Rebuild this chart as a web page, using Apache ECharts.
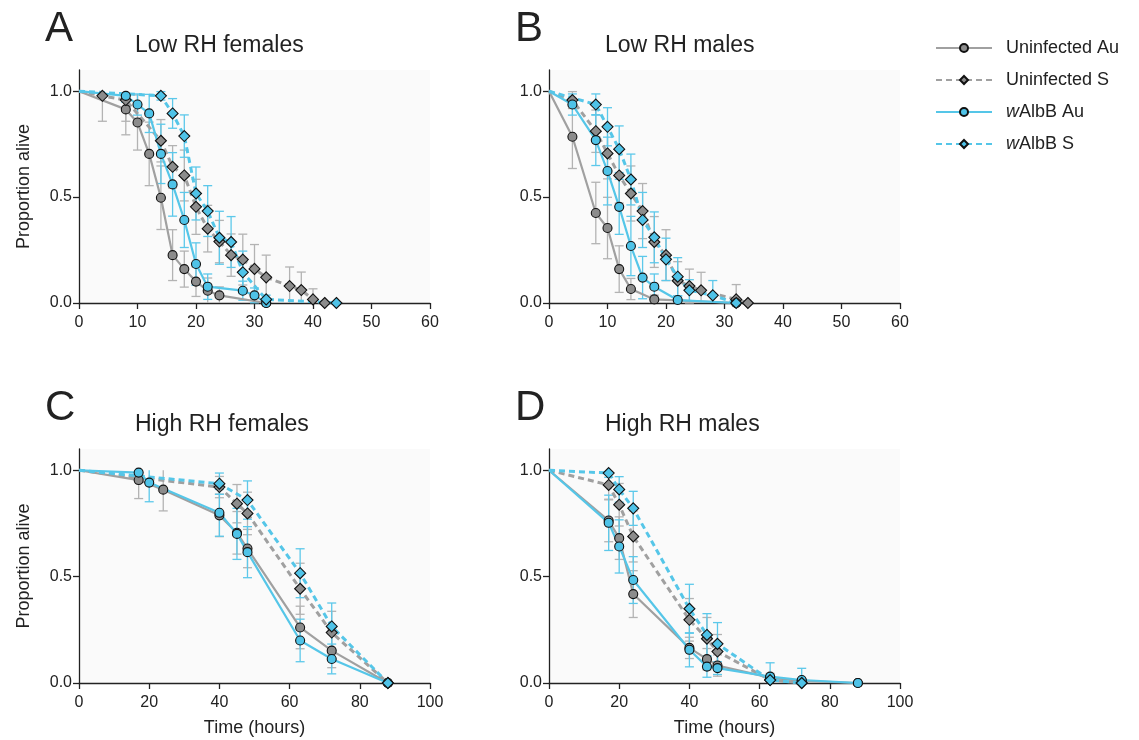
<!DOCTYPE html>
<html>
<head>
<meta charset="utf-8">
<script src="https://cdn.jsdelivr.net/npm/echarts@6/dist/echarts.min.js"></script>
<style>html,body{margin:0;padding:0;background:#fff}#c{width:1139px;height:740px}</style>
</head>
<body>
<div id="c"></div>
<script>
// ---------- DATA ----------
const seriesNames = ['Uninfected Au', 'Uninfected S', 'wAlbB Au', 'wAlbB S'];
const panelLetters = ['A', 'B', 'C', 'D'];
const panelTitles = ['Low RH females', 'Low RH males', 'High RH females', 'High RH males'];
const yTicks = [0, 0.5, 1.0];

// Panel A: Low RH females (time, proportion alive, error)
const A_UAu_t = [0, 8, 10, 12, 14, 16, 18, 20, 22, 24, 32];
const A_UAu_p = [1, 0.914, 0.852, 0.704, 0.497, 0.226, 0.160, 0.101, 0.058, 0.036, 0];
const A_UAu_e = [0, 0.12, 0.13, 0.15, 0.15, 0.12, 0.085, 0.07, 0.06, 0.04, 0];
const A_US_t = [0, 4, 8, 14, 16, 18, 20, 22, 24, 26, 28, 30, 32, 36, 38, 40, 42];
const A_US_p = [1, 0.978, 0.958, 0.766, 0.643, 0.602, 0.454, 0.351, 0.29, 0.226, 0.205, 0.161, 0.121, 0.080, 0.061, 0.017, 0];
const A_US_e = [0, 0.12, 0.1, 0.1, 0.1, 0.12, 0.13, 0.11, 0.1, 0.1, 0.12, 0.115, 0.105, 0.09, 0.085, 0.05, 0];
const A_WAu_t = [0, 8, 10, 12, 14, 16, 18, 20, 22, 28, 30, 32];
const A_WAu_p = [1, 0.978, 0.937, 0.895, 0.704, 0.560, 0.392, 0.184, 0.077, 0.058, 0.036, 0];
const A_WAu_e = [0, 0.03, 0.05, 0.09, 0.14, 0.15, 0.13, 0.10, 0.06, 0.045, 0.035, 0];
const A_WS_t = [0, 14, 16, 18, 20, 22, 24, 26, 28, 32, 44];
const A_WS_p = [1, 0.978, 0.895, 0.788, 0.517, 0.434, 0.308, 0.288, 0.145, 0.017, 0];
const A_WS_e = [0, 0.02, 0.07, 0.1, 0.125, 0.12, 0.125, 0.12, 0.1, 0.02, 0];

// Panel B: Low RH males
const B_UAu_t = [0, 4, 8, 10, 12, 14, 18, 32];
const B_UAu_p = [1, 0.785, 0.425, 0.354, 0.160, 0.066, 0.017, 0];
const B_UAu_e = [0, 0.15, 0.145, 0.145, 0.11, 0.05, 0.02, 0];
const B_US_t = [0, 4, 8, 10, 12, 14, 16, 18, 20, 22, 24, 26, 32, 34];
const B_US_p = [1, 0.958, 0.811, 0.706, 0.602, 0.517, 0.434, 0.288, 0.226, 0.105, 0.080, 0.060, 0.017, 0];
const B_US_e = [0, 0.04, 0.1, 0.12, 0.13, 0.13, 0.13, 0.12, 0.12, 0.09, 0.08, 0.085, 0.07, 0];
const B_WAu_t = [0, 4, 8, 10, 12, 14, 16, 18, 22, 32];
const B_WAu_p = [1, 0.937, 0.769, 0.623, 0.454, 0.269, 0.120, 0.077, 0.014, 0];
const B_WAu_e = [0, 0.05, 0.12, 0.16, 0.13, 0.14, 0.1, 0.06, 0.02, 0];
const B_WS_t = [0, 8, 10, 12, 14, 16, 18, 20, 22, 24, 28, 32];
const B_WS_p = [1, 0.937, 0.832, 0.726, 0.583, 0.392, 0.31, 0.206, 0.124, 0.060, 0.036, 0];
const B_WS_e = [0, 0.05, 0.09, 0.11, 0.12, 0.13, 0.12, 0.1, 0.09, 0.05, 0.07, 0];

// Panel C: High RH females
const C_UAu_t = [0, 17, 24, 40, 45, 48, 63, 72, 88];
const C_UAu_p = [1, 0.954, 0.909, 0.788, 0.706, 0.632, 0.261, 0.152, 0];
const C_UAu_e = [0, 0.087, 0.1, 0.1, 0.1, 0.09, 0.1, 0.08, 0];
const C_US_t = [0, 40, 45, 48, 63, 72, 88];
const C_US_p = [1, 0.921, 0.843, 0.797, 0.443, 0.237, 0];
const C_US_e = [0, 0.05, 0.09, 0.1, 0.12, 0.1, 0];
const C_WAu_t = [0, 17, 20, 40, 45, 48, 63, 72, 88];
const C_WAu_p = [1, 0.989, 0.942, 0.800, 0.701, 0.615, 0.200, 0.113, 0];
const C_WAu_e = [0, 0.03, 0.09, 0.11, 0.12, 0.12, 0.1, 0.07, 0];
const C_WS_t = [0, 40, 48, 63, 72, 88];
const C_WS_p = [1, 0.937, 0.860, 0.516, 0.266, 0];
const C_WS_e = [0, 0.05, 0.09, 0.115, 0.11, 0];

// Panel D: High RH males
const D_UAu_t = [0, 17, 20, 24, 40, 45, 48, 63, 72, 88];
const D_UAu_p = [1, 0.764, 0.681, 0.418, 0.165, 0.112, 0.082, 0.025, 0.01, 0];
const D_UAu_e = [0, 0.1, 0.1, 0.11, 0.05, 0.05, 0.05, 0.02, 0.01, 0];
const D_US_t = [0, 17, 20, 24, 40, 45, 48, 63, 72];
const D_US_p = [1, 0.931, 0.838, 0.689, 0.297, 0.208, 0.148, 0.014, 0];
const D_US_e = [0, 0.07, 0.1, 0.12, 0.1, 0.1, 0.08, 0.02, 0];
const D_WAu_t = [0, 17, 20, 24, 40, 45, 48, 63, 72, 88];
const D_WAu_p = [1, 0.753, 0.642, 0.484, 0.156, 0.077, 0.07, 0.03, 0.014, 0];
const D_WAu_e = [0, 0.13, 0.125, 0.11, 0.08, 0.05, 0.03, 0.065, 0.055, 0];
const D_WS_t = [0, 17, 20, 24, 40, 45, 48, 63, 72];
const D_WS_p = [1, 0.987, 0.910, 0.821, 0.349, 0.226, 0.184, 0.014, 0];
const D_WS_e = [0, 0.02, 0.06, 0.08, 0.115, 0.1, 0.1, 0.02, 0];

// ---------- BUILD ----------
const panels = [
  [[A_UAu_t, A_UAu_p, A_UAu_e], [A_US_t, A_US_p, A_US_e], [A_WAu_t, A_WAu_p, A_WAu_e], [A_WS_t, A_WS_p, A_WS_e]],
  [[B_UAu_t, B_UAu_p, B_UAu_e], [B_US_t, B_US_p, B_US_e], [B_WAu_t, B_WAu_p, B_WAu_e], [B_WS_t, B_WS_p, B_WS_e]],
  [[C_UAu_t, C_UAu_p, C_UAu_e], [C_US_t, C_US_p, C_US_e], [C_WAu_t, C_WAu_p, C_WAu_e], [C_WS_t, C_WS_p, C_WS_e]],
  [[D_UAu_t, D_UAu_p, D_UAu_e], [D_US_t, D_US_p, D_US_e], [D_WAu_t, D_WAu_p, D_WAu_e], [D_WS_t, D_WS_p, D_WS_e]]
];

const FONT = "'Liberation Sans', Arial, Helvetica, sans-serif";
const TXT = '#222';
const styles = [
  {symbol: 'circle', size: 9, fill: '#8c8c8c', line: '#a0a0a0', width: 2.2, type: 'solid', err: '#b3b3b3'},
  {symbol: 'diamond', size: 11, fill: '#8c8c8c', line: '#a0a0a0', width: 3, type: [6, 4], err: '#b3b3b3'},
  {symbol: 'circle', size: 9, fill: '#4fc3e8', line: '#55c6e8', width: 2.2, type: 'solid', err: '#5cc8ea'},
  {symbol: 'diamond', size: 11, fill: '#4fc3e8', line: '#55c6e8', width: 3, type: [6, 4], err: '#5cc8ea'}
];

const gridPos = [
  {left: 79, top: 70, width: 351, height: 233},
  {left: 549, top: 70, width: 351, height: 233},
  {left: 79, top: 449, width: 351, height: 234},
  {left: 549, top: 449, width: 351, height: 234}
];

const grids = gridPos.map(g => Object.assign({show: true, backgroundColor: '#fafafa', borderWidth: 0}, g));

const xAxes = gridPos.map((g, i) => ({
  gridIndex: i, type: 'value', min: 0, max: i < 2 ? 60 : 100, interval: i < 2 ? 10 : 20,
  axisLine: {show: true, onZero: false, lineStyle: {color: TXT, width: 1.3}},
  axisTick: {show: true, length: 6, lineStyle: {color: TXT, width: 1.3}},
  axisLabel: {fontSize: 16, color: TXT, margin: 12, fontFamily: FONT},
  splitLine: {show: false},
  name: i >= 2 ? 'Time (hours)' : '', nameLocation: 'middle', nameGap: 36,
  nameTextStyle: {fontSize: 18, color: TXT, fontFamily: FONT}
}));

const yAxes = gridPos.map((g, i) => ({
  gridIndex: i, type: 'value', min: 0, max: 1.1,
  axisLine: {show: true, onZero: false, lineStyle: {color: TXT, width: 1.3}},
  axisTick: {show: true, length: 6, customValues: yTicks, lineStyle: {color: TXT, width: 1.3}},
  axisLabel: {fontSize: 16, color: TXT, margin: 7, fontFamily: FONT, customValues: yTicks, formatter: v => Number(v).toFixed(1)},
  splitLine: {show: false},
  name: i % 2 === 0 ? 'Proportion alive' : '', nameLocation: 'middle', nameGap: 46, nameRotate: 90,
  nameTextStyle: {fontSize: 18, color: TXT, fontFamily: FONT}
}));

const series = [];
panels.forEach((panel, gi) => {
  // error bars first (underneath)
  panel.forEach((s, si) => {
    const [t, p, e] = s;
    const st = styles[si];
    const data = [];
    t.forEach((x, k) => { if (e[k] > 0) data.push([x, p[k], e[k]]); });
    series.push({
      type: 'custom', name: 'err-' + gi + '-' + si, xAxisIndex: gi, yAxisIndex: gi, z: 1, silent: true,
      data: data,
      renderItem: (params, api) => {
        const x = api.value(0), y = api.value(1), er = api.value(2);
        const hiV = Math.min(1, y + er), loV = Math.max(0, y - er);
        const hi = api.coord([x, hiV]), lo = api.coord([x, loV]);
        const w = 4.5;
        const st2 = {stroke: st.err, lineWidth: 1.3};
        const ch = [{type: 'line', shape: {x1: hi[0], y1: hi[1], x2: lo[0], y2: lo[1]}, style: st2}];
        if (y + er <= 1) ch.push({type: 'line', shape: {x1: hi[0] - w, y1: hi[1], x2: hi[0] + w, y2: hi[1]}, style: st2});
        if (y - er >= 0) ch.push({type: 'line', shape: {x1: lo[0] - w, y1: lo[1], x2: lo[0] + w, y2: lo[1]}, style: st2});
        return {type: 'group', children: ch};
      }
    });
  });
  panel.forEach((s, si) => {
    const [t, p] = s;
    const st = styles[si];
    series.push({
      type: 'line', name: seriesNames[si], xAxisIndex: gi, yAxisIndex: gi, z: 2, clip: false,
      symbol: st.symbol, symbolSize: st.size,
      itemStyle: {color: st.fill, borderColor: '#111', borderWidth: 1.1},
      lineStyle: {color: st.line, width: st.width, type: st.type},
      emphasis: {disabled: true},
      data: t.map((x, k) => k === 0 ? {value: [x, p[k]], symbol: 'none'} : [x, p[k]])
    });
  });
});

const titles = [];
gridPos.forEach((g, i) => {
  titles.push({text: panelLetters[i], left: g.left - 34, top: g.top - 62, padding: 0,
    textStyle: {fontSize: 42, fontWeight: 'normal', color: TXT, fontFamily: FONT}});
  titles.push({text: panelTitles[i], left: g.left + 56, top: g.top - 36, padding: 0,
    textStyle: {fontSize: 23, fontWeight: 'normal', color: TXT, fontFamily: FONT}});
});

const option = {
  animation: false,
  textStyle: {fontFamily: FONT},
  title: titles,
  grid: grids,
  xAxis: xAxes,
  yAxis: yAxes,
  legend: {
    data: seriesNames, orient: 'vertical', left: 930, top: 34,
    itemWidth: 56, itemHeight: 10, itemGap: 14, selectedMode: false,
    textStyle: {fontSize: 18, color: TXT, fontFamily: FONT, lineHeight: 18, padding: [0, 0, 0, 9],
      rich: {i: {fontStyle: 'italic', fontSize: 18, color: TXT, fontFamily: FONT},
             n: {fontSize: 18, color: TXT, fontFamily: FONT}}},
    formatter: name => name.charAt(0) === 'w' ? '{i|w}{n|' + name.slice(1) + '}' : '{n|' + name + '}'
  },
  series: series
};

const chart = echarts.init(document.getElementById('c'), null, {renderer: 'canvas'});
chart.setOption(option);
</script>
</body>
</html>
